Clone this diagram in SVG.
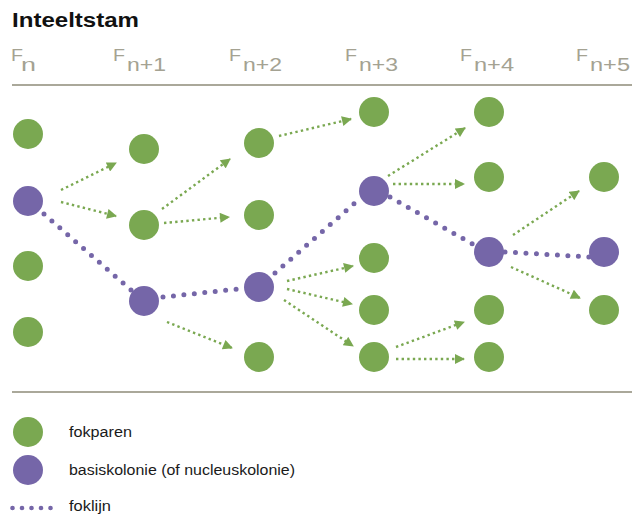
<svg xmlns="http://www.w3.org/2000/svg" width="632" height="515" viewBox="0 0 632 515">
<defs>
<style>
.g{fill:#7aa851}
.p{fill:#7566a8}
.ga{fill:none;stroke:#7aa851;stroke-width:2.4;stroke-dasharray:2.4 3.2;marker-end:url(#ah)}
.pl{fill:none;stroke:#7566a8;stroke-width:5;stroke-linecap:round;stroke-dasharray:0 10.5}
.hd{font-family:"Liberation Sans",Arial,sans-serif;fill:#a4a292}
.f{font-size:16px}
.s{font-size:19px}
.sep{stroke:#aaa89a;stroke-width:2}
.lg{font-family:"Liberation Sans",Arial,sans-serif;font-size:14px;fill:#1a1a1a}
</style>
<marker id="ah" viewBox="0 0 10 10" refX="9" refY="5" markerWidth="11" markerHeight="10" markerUnits="userSpaceOnUse" orient="auto">
<path d="M0,0 L10,5 L0,10 Z" fill="#7aa851"/>
</marker>
</defs>
<rect width="632" height="515" fill="#ffffff"/>
<text x="12" y="27" font-family="Liberation Sans,Arial,sans-serif" font-weight="bold" font-size="20" fill="#111" textLength="127" lengthAdjust="spacingAndGlyphs">Inteeltstam</text>
<g id="headers">
<text class="hd f" x="11" y="61" textLength="12" lengthAdjust="spacingAndGlyphs">F</text><text class="hd s" x="21" y="71" textLength="15" lengthAdjust="spacingAndGlyphs">n</text>
<text class="hd f" x="113" y="61" textLength="12" lengthAdjust="spacingAndGlyphs">F</text><text class="hd s" x="127" y="71" textLength="39" lengthAdjust="spacingAndGlyphs">n+1</text>
<text class="hd f" x="229" y="61" textLength="12" lengthAdjust="spacingAndGlyphs">F</text><text class="hd s" x="243" y="71" textLength="39" lengthAdjust="spacingAndGlyphs">n+2</text>
<text class="hd f" x="345" y="61" textLength="12" lengthAdjust="spacingAndGlyphs">F</text><text class="hd s" x="359" y="71" textLength="39" lengthAdjust="spacingAndGlyphs">n+3</text>
<text class="hd f" x="460" y="61" textLength="12" lengthAdjust="spacingAndGlyphs">F</text><text class="hd s" x="474" y="71" textLength="40" lengthAdjust="spacingAndGlyphs">n+4</text>
<text class="hd f" x="576" y="61" textLength="12" lengthAdjust="spacingAndGlyphs">F</text><text class="hd s" x="590" y="71" textLength="40" lengthAdjust="spacingAndGlyphs">n+5</text>
</g>
<line class="sep" x1="12" y1="85" x2="632" y2="85"/>
<line class="sep" x1="12" y1="392" x2="632" y2="392"/>
<g id="connectors">
<path class="ga" d="M61,190 L116,163"/>
<path class="ga" d="M61,202 L116,216"/>
<path class="ga" d="M162,209 L230,159"/>
<path class="ga" d="M164,223 L229,217"/>
<path class="ga" d="M167,322 L232,348"/>
<path class="ga" d="M279,136 L351,119"/>
<path class="ga" d="M287,281 L353,266"/>
<path class="ga" d="M287,289 L352,304"/>
<path class="ga" d="M284,300 L353,346"/>
<path class="ga" d="M388,176 L465,128"/>
<path class="ga" d="M393,184 L464,184"/>
<path class="ga" d="M396,347 L464,322"/>
<path class="ga" d="M396,359 L464,359"/>
<path class="ga" d="M513,235 L579,191"/>
<path class="ga" d="M511,267 L580,298"/>
<path class="pl" d="M44,214 L131,290"/>
<path class="pl" d="M163,297 L238,289"/>
<path class="pl" d="M275,273 L356,202"/>
<path class="pl" d="M390,197 L476,246"/>
<path class="pl" d="M505,252 L591,257"/>
</g>
<g id="col-fn">
<circle class="g" cx="28" cy="134" r="15"/>
<circle class="p" cx="28" cy="201" r="15"/>
<circle class="g" cx="28" cy="266" r="15"/>
<circle class="g" cx="28" cy="332" r="15"/>
</g>
<g id="col-fn1">
<circle class="g" cx="144" cy="149" r="15"/>
<circle class="g" cx="144" cy="225" r="15"/>
<circle class="p" cx="144" cy="301" r="15"/>
</g>
<g id="col-fn2">
<circle class="g" cx="259" cy="143" r="15"/>
<circle class="g" cx="259" cy="215" r="15"/>
<circle class="p" cx="259" cy="287" r="15"/>
<circle class="g" cx="259" cy="357" r="15"/>
</g>
<g id="col-fn3">
<circle class="g" cx="374" cy="112" r="15"/>
<circle class="p" cx="374" cy="191" r="15"/>
<circle class="g" cx="374" cy="258" r="15"/>
<circle class="g" cx="374" cy="310" r="15"/>
<circle class="g" cx="374" cy="357" r="15"/>
</g>
<g id="col-fn4">
<circle class="g" cx="489" cy="112" r="15"/>
<circle class="g" cx="489" cy="177" r="15"/>
<circle class="p" cx="489" cy="252" r="15"/>
<circle class="g" cx="489" cy="310" r="15"/>
<circle class="g" cx="489" cy="357" r="15"/>
</g>
<g id="col-fn5">
<circle class="g" cx="604" cy="177" r="15"/>
<circle class="p" cx="604" cy="252" r="15"/>
<circle class="g" cx="604" cy="310" r="15"/>
</g>
<g id="legend">
<circle class="g" cx="28" cy="432" r="15"/>
<text class="lg" x="69" y="437" textLength="63" lengthAdjust="spacingAndGlyphs">fokparen</text>
<circle class="p" cx="28" cy="470" r="15"/>
<text class="lg" x="69" y="475" textLength="226" lengthAdjust="spacingAndGlyphs">basiskolonie (of nucleuskolonie)</text>
<path d="M12.5,508 L60,508" fill="none" stroke="#7566a8" stroke-width="4.6" stroke-linecap="round" stroke-dasharray="0 9.5"/>
<text class="lg" x="69" y="511" textLength="42" lengthAdjust="spacingAndGlyphs">foklijn</text>
</g>
</svg>
